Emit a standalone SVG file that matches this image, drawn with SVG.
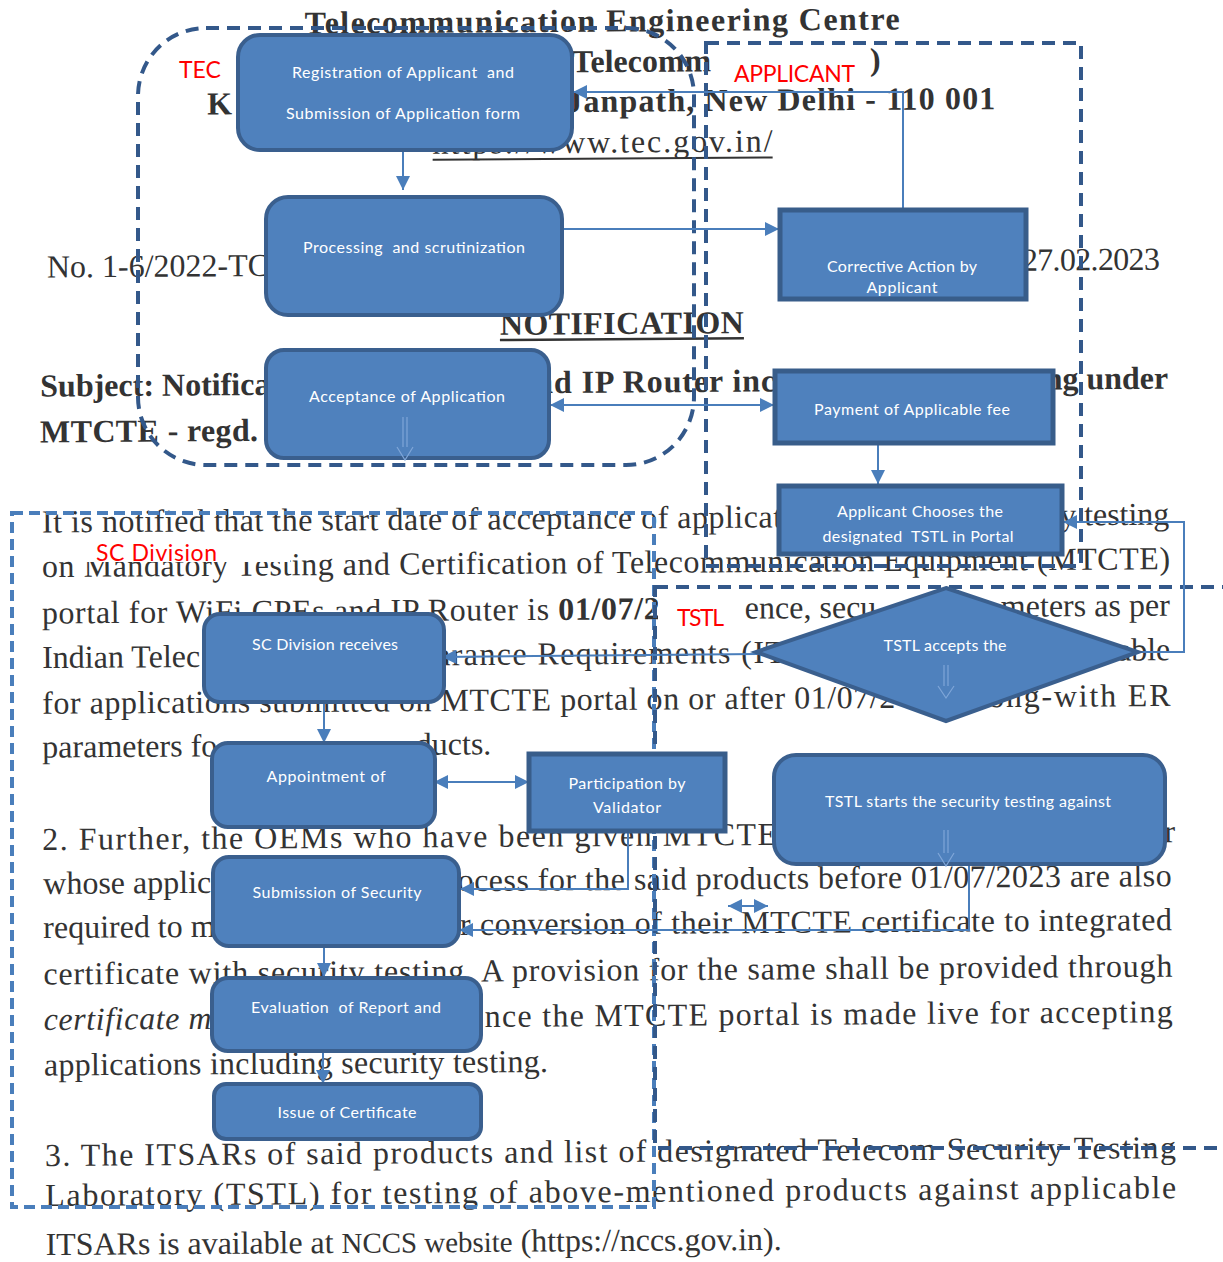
<svg xmlns="http://www.w3.org/2000/svg" width="1223" height="1262" viewBox="0 0 1223 1262">
<style>
.doc text{font-family:"Liberation Serif","Times New Roman",serif;fill:#333;font-size:32px}
.b{font-weight:bold}
.it{font-style:italic}
.ul{fill:#333}
.nt{font-family:Lato,"Open Sans",sans-serif;fill:#fff;font-size:16px;text-anchor:middle;white-space:pre}
.lbl{font-family:Lato,"Open Sans",sans-serif;fill:#ff0000;font-size:23px}
.wb{fill:#fff}
.rn{fill:#4F81BD;stroke:#3A5F8E;stroke-width:4}
.sn{fill:#4F81BD;stroke:#385D8A;stroke-width:5}
.hol{fill:none;stroke:#7FA6D8;stroke-width:1.2}
.con{fill:none;stroke:#4A7EBB;stroke-width:2}
.lane{fill:none;stroke:#33588A;stroke-width:4;stroke-dasharray:13 8}
.lane2{fill:none;stroke:#4A7EBB;stroke-width:4;stroke-dasharray:11 6}
</style>
<defs>
<marker id="ah" viewBox="0 0 10 10" refX="10" refY="5" markerWidth="14" markerHeight="14" markerUnits="userSpaceOnUse" orient="auto-start-reverse">
<path d="M0,0 L10,5 L0,10 z" fill="#4A7EBB"/>
</marker>
</defs>
<rect width="1223" height="1262" fill="#fff"/>

<g id="document" class="doc" transform="rotate(-0.4 42 640)">
<text class="b" x="309" y="35.5" font-size="31" textLength="595">Telecommunication Engineering Centre</text>
<text class="b" x="576" y="76" font-size="31">Telecomm</text>
<text class="b" x="874" y="76" font-size="31">)</text>
<text class="b" x="211" y="115.7">K</text>
<text class="b" x="570" y="115.7" textLength="429">Janpath, New Delhi - 110 001</text>
<text x="436" y="156.6" textLength="340">https://www.tec.gov.in/</text>
<rect class="ul" x="436" y="161.5" width="340" height="2"/>
<text x="49.5" y="277.5" font-size="30">No. 1-6/2022-TC</text>
<text x="1024.5" y="277.5" font-size="30" textLength="138">27.02.2023</text>
<text class="b" x="502" y="338" font-size="31" textLength="244">NOTIFICATION</text>
<rect class="ul" x="502" y="342" width="244" height="2.5"/>
<text class="b" x="42" y="396.5" font-size="31">Subject: Notifica</text>
<text class="b" x="537" y="396.5" font-size="31" textLength="240">nd IP Router inc</text>
<text class="b" x="1170" y="396.5" font-size="31" text-anchor="end">ng under</text>
<text class="b" x="41.5" y="442.4" font-size="31" textLength="218">MTCTE - regd.</text>

<text x="42.8" y="532.5" textLength="740">It is notified that the start date of acceptance of applicat</text>
<text x="1061" y="532.5" textLength="109">y testing</text>
<text x="42.5" y="577" textLength="1128">on Mandatory Testing and Certification of Telecommunication Equipment (MTCTE)</text>
<text x="42" y="623.5" textLength="618">portal for WiFi CPEs and IP Router is <tspan class="b">01/07/2</tspan></text>
<text x="745" y="623.5">ence, secu</text>
<text x="1001" y="623.5" textLength="169">meters as per</text>
<text x="42" y="668">Indian Telec</text>
<text x="436" y="668" textLength="368">arance Requirements (ITS</text>
<text x="1117" y="668" textLength="53">able</text>
<text x="41.8" y="713.8" textLength="853">for applications submitted on MTCTE portal on or after 01/07/2</text>
<text x="961" y="713.8" textLength="209">along-with ER</text>
<text x="41.5" y="757.5">parameters fo</text>
<text x="415" y="757.5">ducts.</text>
<text x="40.7" y="850" textLength="735">2. Further, the OEMs who have been given MTCTE</text>
<text x="1163" y="850">r</text>
<text x="41.5" y="894">whose applic</text>
<text x="456" y="894" textLength="714">ocess for the said products before 01/07/2023 are also</text>
<text x="41.2" y="938">required to m</text>
<text x="458" y="938" textLength="712">r conversion of their MTCTE certificate to integrated</text>
<text x="41" y="984.5" textLength="1129">certificate with security testing. A provision for the same shall be provided through</text>
<text class="it" x="41" y="1030" textLength="168">certificate m</text>
<text x="482" y="1030" textLength="688">nce the MTCTE portal is made live for accepting</text>
<text x="41" y="1075.5" textLength="504">applications including security testing.</text>
<text x="41.4" y="1166" textLength="1131">3. The ITSARs of said products and list of designated Telecom Security Testing</text>
<text x="41.4" y="1206" textLength="1131">Laboratory (TSTL) for testing of above-mentioned products against applicable</text>
<text x="41.4" y="1255" textLength="736">ITSARs is available at <tspan font-size="29">NCCS website</tspan> (https://nccs.gov.in).</text>
</g>

<g id="lane-tec">
<rect class="lane" x="138" y="28" width="556" height="437" rx="68"/>
<text class="lbl" x="179" y="78">TEC</text>
</g>
<g id="lane-applicant">
<rect class="lane" x="706" y="43" width="375" height="523"/>
<rect class="wb" x="716" y="55" width="150" height="33"/>
<text class="lbl" x="734" y="82" textLength="121">APPLICANT</text>
</g>
<g id="lane-sc">
<rect class="lane2" x="12" y="513" width="642" height="694"/>
<rect class="wb" x="75" y="535" width="215" height="27"/>
<text class="lbl" x="96" y="561" textLength="121">SC Division</text>
</g>
<g id="lane-tstl">
<rect class="lane" x="655" y="587" width="620" height="561"/>
<rect class="wb" x="658" y="597" width="87" height="43"/>
<text class="lbl" x="677" y="626" textLength="47">TSTL</text>
</g>

<g id="connectors">
<path class="con" d="M403,150 V190" marker-end="url(#ah)"/>
<path class="con" d="M562,229 H779" marker-end="url(#ah)"/>
<path class="con" d="M903,210 V92 H573" marker-end="url(#ah)"/>
<path class="con" d="M550,405 H774" marker-start="url(#ah)" marker-end="url(#ah)"/>
<path class="con" d="M878,443 V484" marker-end="url(#ah)"/>
<path class="con" d="M1138,652 H1184 V522 H1063" marker-end="url(#ah)"/>
<path class="con" d="M758,654 L442,657" marker-end="url(#ah)"/>
<path class="con" d="M324,703 V743" marker-end="url(#ah)"/>
<path class="con" d="M434,782 H529" marker-start="url(#ah)" marker-end="url(#ah)"/>
<path class="con" d="M628,831 V889 H460" marker-end="url(#ah)"/>
<path class="con" d="M969,865 V930 H459" marker-end="url(#ah)"/>
<path class="con" d="M728,906 H768" stroke-width="3" marker-start="url(#ah)" marker-end="url(#ah)"/>
<path class="con" d="M324,947 V977" marker-end="url(#ah)"/>
<path class="con" d="M323,1051 V1084" marker-end="url(#ah)"/>
</g>

<g id="n-registration">
<rect class="rn" x="238" y="35" width="334" height="115" rx="22"/>
<text class="nt" x="403" y="78" textLength="222">Registration of Applicant  and</text>
<text class="nt" x="403" y="119" textLength="234">Submission of Application form</text>
</g>
<g id="n-processing">
<rect class="rn" x="266" y="197" width="296" height="118" rx="22"/>
<text class="nt" x="414" y="253" textLength="222">Processing  and scrutinization</text>
</g>
<g id="n-acceptance">
<rect class="rn" x="266" y="350" width="283" height="108" rx="18"/>
<text class="nt" x="407" y="402" textLength="196">Acceptance of Application</text>
<path class="hol" d="M403,417 V447 M407,417 V447 M397,447 L405,460 L413,447"/>
</g>
<g id="n-corrective">
<rect class="sn" x="780" y="210" width="246" height="89"/>
<text class="nt" x="902" y="272" textLength="150">Corrective Action by</text>
<text class="nt" x="902" y="293" textLength="71">Applicant</text>
</g>
<g id="n-payment">
<rect class="sn" x="775" y="371" width="278" height="72"/>
<text class="nt" x="912" y="415" textLength="196">Payment of Applicable fee</text>
</g>
<g id="n-choose">
<rect class="sn" x="779" y="486" width="283" height="68"/>
<text class="nt" x="920" y="517" textLength="166">Applicant Chooses the</text>
<text class="nt" x="918" y="542" textLength="191">designated  TSTL in Portal</text>
</g>
<g id="n-tstl-accepts">
<polygon class="rn" points="946,588 1138,652 946,721 756,652"/>
<text class="nt" x="945" y="651" textLength="123">TSTL accepts the</text>
<path class="hol" d="M944,665 V686 M948,665 V686 M938,686 L946,698 L954,686"/>
</g>
<g id="n-tstl-starts">
<rect class="rn" x="774" y="755" width="391" height="109" rx="22"/>
<text class="nt" x="968" y="807" textLength="286">TSTL starts the security testing against</text>
<path class="hol" d="M944,830 V853 M948,830 V853 M938,853 L946,866 L954,853"/>
</g>
<g id="n-sc-receives">
<rect class="rn" x="204" y="614" width="240" height="88" rx="16"/>
<text class="nt" x="325" y="650" textLength="146">SC Division receives</text>
</g>
<g id="n-appointment">
<rect class="rn" x="212" y="743" width="223" height="84" rx="16"/>
<text class="nt" x="326" y="782" textLength="119">Appointment of</text>
</g>
<g id="n-participation">
<rect class="sn" x="529" y="754" width="196" height="77"/>
<text class="nt" x="627" y="789" textLength="117">Participation by</text>
<text class="nt" x="627" y="813" textLength="68">Validator</text>
</g>
<g id="n-submission">
<rect class="rn" x="213" y="857" width="246" height="89" rx="16"/>
<text class="nt" x="337" y="898" textLength="169">Submission of Security</text>
</g>
<g id="n-evaluation">
<rect class="rn" x="212" y="978" width="269" height="73" rx="16"/>
<text class="nt" x="346" y="1013" textLength="190">Evaluation  of Report and</text>
</g>
<g id="n-issue">
<rect class="rn" x="214" y="1084" width="267" height="55" rx="12"/>
<text class="nt" x="347" y="1118" textLength="139">Issue of Certificate</text>
</g>
</svg>
